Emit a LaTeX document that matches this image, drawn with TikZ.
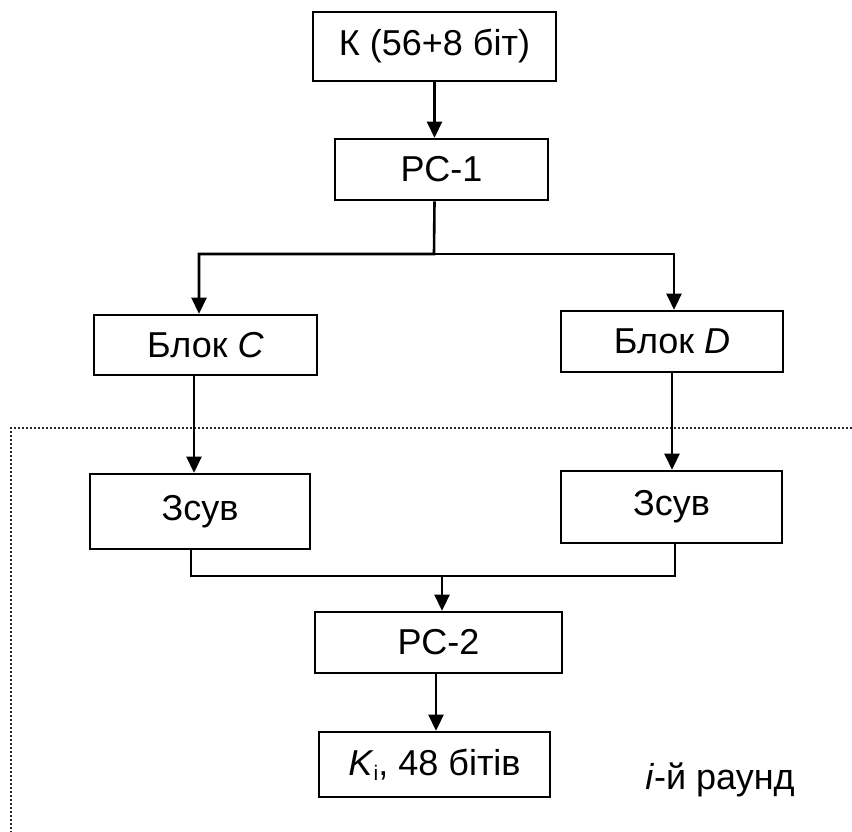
\documentclass[tikz,border=0pt]{standalone}
\usepackage{fontspec}
\setmainfont{Liberation Sans}
\usetikzlibrary{arrows.meta}
\tikzset{
  box/.style={draw, line width=2.6pt, rectangle, inner sep=0pt, font=\fontsize{36}{42}\selectfont},
  conn/.style={line width=2.6pt},
  arr/.style={conn, -{Triangle[width=15pt,length=16pt]}},
  roundline/.style={line width=1.8pt, dash pattern=on 2pt off 2pt, black!85}
}
\begin{document}
\begin{tikzpicture}[x=1pt, y=-1pt]
\useasboundingbox (0,0) rectangle (852,832);
\node[box, minimum width=243pt, minimum height=69pt] (k) at (434.5,46.5) {К (56+8 біт)};
\node[box, minimum width=213pt, minimum height=61pt] (pc1) at (441.5,169.5) {РС-1};
\node[box, minimum width=223pt, minimum height=60pt] (bC) at (205.5,345) {Блок \textit{C}};
\node[box, minimum width=222pt, minimum height=61pt] (bD) at (672,341.5) {Блок \textit{D}};
\node[box, minimum width=220pt, minimum height=75pt] (z1) at (200,511.5) {Зсув};
\node[box, minimum width=221pt, minimum height=72pt] (z2) at (671.5,507) {Зсув};
\node[box, minimum width=247pt, minimum height=61pt] (pc2) at (438.5,642.5) {РС-2};
\node[box, minimum width=231pt, minimum height=65pt] (ki) at (434.5,764.5) {\textit{K}\raisebox{-0.25ex}{\fontsize{21}{25}\selectfont i}, 48 бітів};
\node[font=\fontsize{36}{42}\selectfont, inner sep=0pt] (round) at (720,780) {\textit{i}-й раунд};

\coordinate (split) at (434,254);
\coordinate (merge) at (442,576);

\draw[roundline] (852,428) -- (11,428) -- (11,832);

\draw[arr] (k.south) -- (k.south |- pc1.north);
\draw[arr] (k.south |- pc1.south) -- (split) -| ([xshift=-6.5pt]bC.north);
\draw[arr] (split) -| ([xshift=2pt]bD.north);
\draw[arr] ([xshift=-11.5pt]bC.south) -- ([xshift=-11.5pt]bC.south |- z1.north);
\draw[arr] (bD.south) -- (bD.south |- z2.north);
\draw[conn] ([xshift=-9pt]z1.south) |- (merge) -| ([xshift=3.5pt]z2.south);
\draw[arr] (merge) -- (merge |- pc2.north);
\draw[arr] ([xshift=-2.5pt]pc2.south) -- ([xshift=-2.5pt]pc2.south |- ki.north);
\end{tikzpicture}
\end{document}
